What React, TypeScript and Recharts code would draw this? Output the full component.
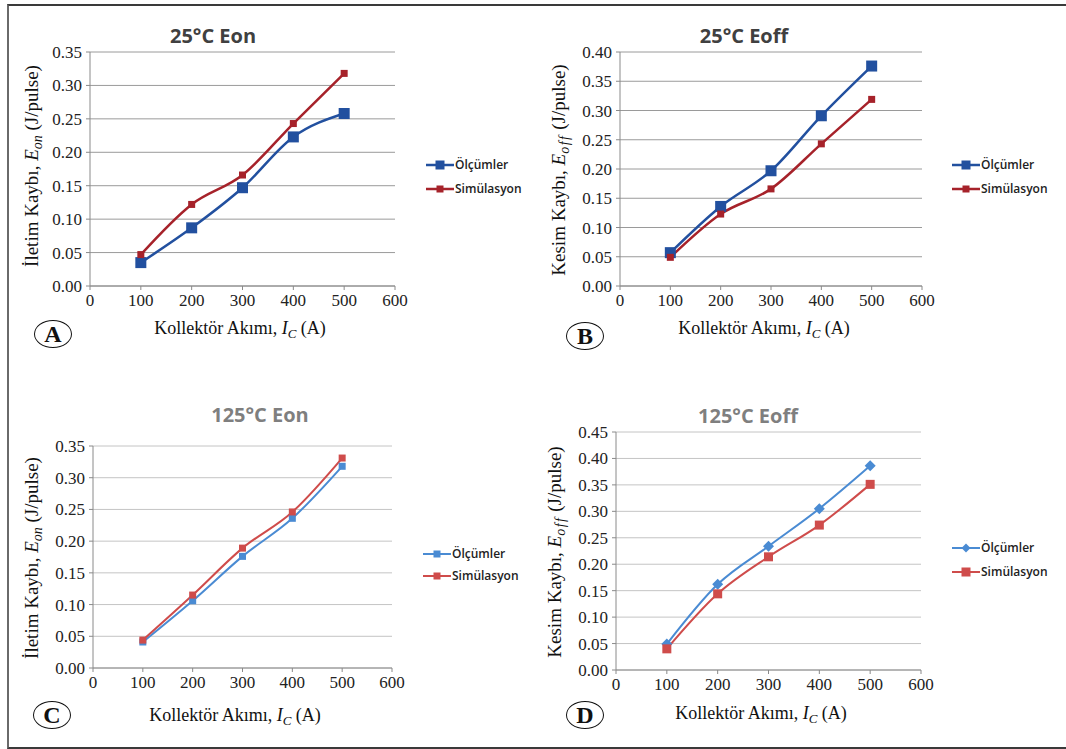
import React from 'react';
import { LineChart, Line, XAxis, YAxis, CartesianGrid } from 'recharts';

const currents = [100, 200, 300, 400, 500];
const xTicks = [0, 100, 200, 300, 400, 500, 600];

const eon25Olcum = [0.035, 0.087, 0.147, 0.223, 0.258];
const eon25Sim = [0.047, 0.122, 0.166, 0.243, 0.318];
const eoff25Olcum = [0.057, 0.136, 0.197, 0.291, 0.376];
const eoff25Sim = [0.049, 0.123, 0.166, 0.243, 0.319];
const eon125Olcum = [0.041, 0.106, 0.176, 0.236, 0.318];
const eon125Sim = [0.044, 0.115, 0.189, 0.246, 0.331];
const eoff125Olcum = [0.049, 0.162, 0.234, 0.305, 0.386];
const eoff125Sim = [0.04, 0.144, 0.214, 0.274, 0.351];

const ticks035 = [0, 0.05, 0.1, 0.15, 0.2, 0.25, 0.3, 0.35];
const ticks040 = [0, 0.05, 0.1, 0.15, 0.2, 0.25, 0.3, 0.35, 0.4];
const ticks045 = [0, 0.05, 0.1, 0.15, 0.2, 0.25, 0.3, 0.35, 0.4, 0.45];

const SERIF = '"Liberation Serif", "DejaVu Serif", serif';
const SANS = '"Open Sans", "Noto Sans", sans-serif';

const DARK_BLUE = '#22509f';
const DARK_RED = '#a6222a';
const LIGHT_BLUE = '#4a8bd3';
const LIGHT_RED = '#cf4c4b';

type Shape = 'square' | 'diamond';

interface SeriesCfg {
  key: string;
  name: string;
  color: string;
  shape: Shape;
  size: number;
  width: number;
}

const toRows = (a: number[], b: number[]) =>
  currents.map((c, i) => ({ ic: c, olcum: a[i], sim: b[i] }));

const makeDot = (shape: Shape, size: number, color: string) => (props: any) => {
  const { cx, cy, index } = props;
  if (cx == null || cy == null) return <g key={index} />;
  if (shape === 'diamond') {
    const r = size / 2;
    return (
      <polygon
        key={index}
        points={`${cx},${cy - r} ${cx + r},${cy} ${cx},${cy + r} ${cx - r},${cy}`}
        fill={color}
      />
    );
  }
  return <rect key={index} x={cx - size / 2} y={cy - size / 2} width={size} height={size} fill={color} />;
};

const LegendMark = ({ s }: { s: SeriesCfg }) => {
  const sz = Math.min(s.size, 9);
  return (
    <svg width={28} height={12} style={{ display: 'block' }}>
      <line x1={0} y1={6} x2={28} y2={6} stroke={s.color} strokeWidth={s.width} />
      {s.shape === 'diamond' ? (
        <polygon points={`14,${6 - sz / 2} ${14 + sz / 2},6 14,${6 + sz / 2} ${14 - sz / 2},6`} fill={s.color} />
      ) : (
        <rect x={14 - sz / 2} y={6 - sz / 2} width={sz} height={sz} fill={s.color} />
      )}
    </svg>
  );
};

interface PanelProps {
  left: number;
  top: number;
  height: number;
  margin: { top: number; right: number; bottom: number; left: number };
  data: { ic: number; olcum: number; sim: number }[];
  yTicks: number[];
  gridColor: string;
  title: string;
  titleColor: string;
  titlePos: [number, number];
  series: SeriesCfg[];
  legendPos: [number, number, number];
  yLabel: React.ReactNode;
  yLabelPos: [number, number];
  xLabelPos: [number, number];
  letter: string;
  letterPos: [number, number];
}

const XLabel = () => (
  <span>
    Kollektör Akımı, <i>I</i>
    <sub style={{ fontSize: 13, fontStyle: 'italic', verticalAlign: '-4px' }}>C</sub> (A)
  </span>
);

const YLabel = ({ prefix, sub }: { prefix: string; sub: string }) => (
  <span>
    {prefix}, <i>E</i>
    <sub style={{ fontSize: 14, fontStyle: 'italic', verticalAlign: '-4px', letterSpacing: sub === 'off' ? 1.5 : 0 }}>
      {sub}
    </sub>{' '}
    (J/pulse)
  </span>
);

const Panel = (p: PanelProps) => {
  const yMax = p.yTicks[p.yTicks.length - 1];
  return (
    <div style={{ position: 'absolute', left: p.left, top: p.top, width: 533, height: p.height }}>
      <LineChart width={533} height={p.height} data={p.data} margin={p.margin}>
        <CartesianGrid horizontal vertical={false} stroke={p.gridColor} strokeWidth={1} />
        <XAxis
          dataKey="ic"
          type="number"
          domain={[0, 600]}
          ticks={xTicks}
          height={30}
          tickSize={4}
          tickMargin={4}
          stroke="#8a8a8a"
          tick={{ fill: '#222', fontFamily: SERIF, fontSize: 17 }}
        />
        <YAxis
          type="number"
          domain={[0, yMax]}
          ticks={p.yTicks}
          width={50}
          tickSize={4}
          tickMargin={4}
          stroke="#8a8a8a"
          tickFormatter={(v: number) => v.toFixed(2)}
          tick={{ fill: '#222', fontFamily: SERIF, fontSize: 17 }}
        />
        {p.series.map((s) => (
          <Line
            key={s.key}
            dataKey={s.key}
            name={s.name}
            type="monotone"
            stroke={s.color}
            strokeWidth={s.width}
            dot={makeDot(s.shape, s.size, s.color)}
            activeDot={false}
            isAnimationActive={false}
          />
        ))}
      </LineChart>
      <div
        style={{
          position: 'absolute',
          left: p.titlePos[0],
          top: p.titlePos[1],
          transform: 'translate(-50%, -50%)',
          fontFamily: SANS,
          fontWeight: 700,
          fontSize: 20,
          color: p.titleColor,
          whiteSpace: 'nowrap',
        }}
      >
        {p.title}
      </div>
      {p.series.map((s, i) => (
        <div
          key={s.key}
          style={{
            position: 'absolute',
            left: p.legendPos[0],
            top: (i === 0 ? p.legendPos[1] : p.legendPos[2]) - 6,
            display: 'flex',
            alignItems: 'center',
            gap: 1,
            fontFamily: SANS,
            fontSize: 12,
            fontWeight: 600,
            color: '#222',
            whiteSpace: 'nowrap',
            lineHeight: '12px',
          }}
        >
          <LegendMark s={s} />
          <span>{s.name}</span>
        </div>
      ))}
      <div
        style={{
          position: 'absolute',
          left: p.yLabelPos[0],
          top: p.yLabelPos[1],
          transform: 'translate(-50%, -50%) rotate(-90deg)',
          fontFamily: SERIF,
          fontSize: 19,
          color: '#111',
          whiteSpace: 'nowrap',
        }}
      >
        {p.yLabel}
      </div>
      <div
        style={{
          position: 'absolute',
          left: p.xLabelPos[0],
          top: p.xLabelPos[1],
          transform: 'translate(-50%, -50%)',
          fontFamily: SERIF,
          fontSize: 18,
          color: '#111',
          whiteSpace: 'nowrap',
        }}
      >
        <XLabel />
      </div>
      <div
        style={{
          position: 'absolute',
          left: p.letterPos[0] - 19,
          top: p.letterPos[1] - 14,
          width: 36,
          height: 26,
          border: '1px solid #111',
          borderRadius: '50%',
          display: 'flex',
          alignItems: 'center',
          justifyContent: 'center',
          fontFamily: SERIF,
          fontWeight: 700,
          fontSize: 24,
          color: '#111',
        }}
      >
        {p.letter}
      </div>
    </div>
  );
};

const dark: SeriesCfg[] = [
  { key: 'olcum', name: 'Ölçümler', color: DARK_BLUE, shape: 'square', size: 11, width: 2.5 },
  { key: 'sim', name: 'Simülasyon', color: DARK_RED, shape: 'square', size: 7, width: 2.5 },
];
const lightC: SeriesCfg[] = [
  { key: 'olcum', name: 'Ölçümler', color: LIGHT_BLUE, shape: 'square', size: 7, width: 2 },
  { key: 'sim', name: 'Simülasyon', color: LIGHT_RED, shape: 'square', size: 7, width: 2 },
];
const lightD: SeriesCfg[] = [
  { key: 'olcum', name: 'Ölçümler', color: LIGHT_BLUE, shape: 'diamond', size: 11, width: 2 },
  { key: 'sim', name: 'Simülasyon', color: LIGHT_RED, shape: 'square', size: 9, width: 2 },
];

export default function App() {
  return (
    <div style={{ position: 'absolute', left: 0, top: 0, width: 1066, height: 749, background: '#fff', overflow: 'hidden' }}>
      <div
        style={{
          position: 'absolute',
          left: 7,
          top: 4,
          width: 1080,
          height: 741,
          borderTop: '2px solid #3a3a3a',
          borderLeft: '2px solid #6a6a6a',
          borderBottom: '2px solid #3a3a3a',
        }}
      />
      <Panel
        left={0}
        top={0}
        height={370}
        margin={{ top: 52, right: 138, bottom: 54, left: 40 }}
        data={toRows(eon25Olcum, eon25Sim)}
        yTicks={ticks035}
        gridColor="#9a9a9a"
        title="25°C Eon"
        titleColor="#404040"
        titlePos={[213, 35]}
        series={dark}
        legendPos={[426, 165, 189]}
        yLabel={<YLabel prefix="İletim Kaybı" sub="on" />}
        yLabelPos={[33, 166]}
        xLabelPos={[240, 330]}
        letter="A"
        letterPos={[53, 334]}
      />
      <Panel
        left={533}
        top={0}
        height={370}
        margin={{ top: 52, right: 144, bottom: 54, left: 37 }}
        data={toRows(eoff25Olcum, eoff25Sim)}
        yTicks={ticks040}
        gridColor="#9a9a9a"
        title="25°C Eoff"
        titleColor="#404040"
        titlePos={[211, 35]}
        series={dark}
        legendPos={[419, 165, 189]}
        yLabel={<YLabel prefix="Kesim Kaybı" sub="off" />}
        yLabelPos={[27, 170]}
        xLabelPos={[231, 330]}
        letter="B"
        letterPos={[52, 336]}
      />
      <Panel
        left={0}
        top={375}
        height={374}
        margin={{ top: 71, right: 141, bottom: 51, left: 43 }}
        data={toRows(eon125Olcum, eon125Sim)}
        yTicks={ticks035}
        gridColor="#c4c4c4"
        title="125°C Eon"
        titleColor="#7f7f7f"
        titlePos={[260, 39]}
        series={lightC}
        legendPos={[423, 179, 201]}
        yLabel={<YLabel prefix="İletim Kaybı" sub="on" />}
        yLabelPos={[33, 183]}
        xLabelPos={[235, 342]}
        letter="C"
        letterPos={[52, 340]}
      />
      <Panel
        left={533}
        top={375}
        height={374}
        margin={{ top: 57, right: 145, bottom: 49, left: 33 }}
        data={toRows(eoff125Olcum, eoff125Sim)}
        yTicks={ticks045}
        gridColor="#c4c4c4"
        title="125°C Eoff"
        titleColor="#7f7f7f"
        titlePos={[215, 40]}
        series={lightD}
        legendPos={[419, 173, 197]}
        yLabel={<YLabel prefix="Kesim Kaybı" sub="off" />}
        yLabelPos={[23, 177]}
        xLabelPos={[228, 340]}
        letter="D"
        letterPos={[52, 340]}
      />
    </div>
  );
}
